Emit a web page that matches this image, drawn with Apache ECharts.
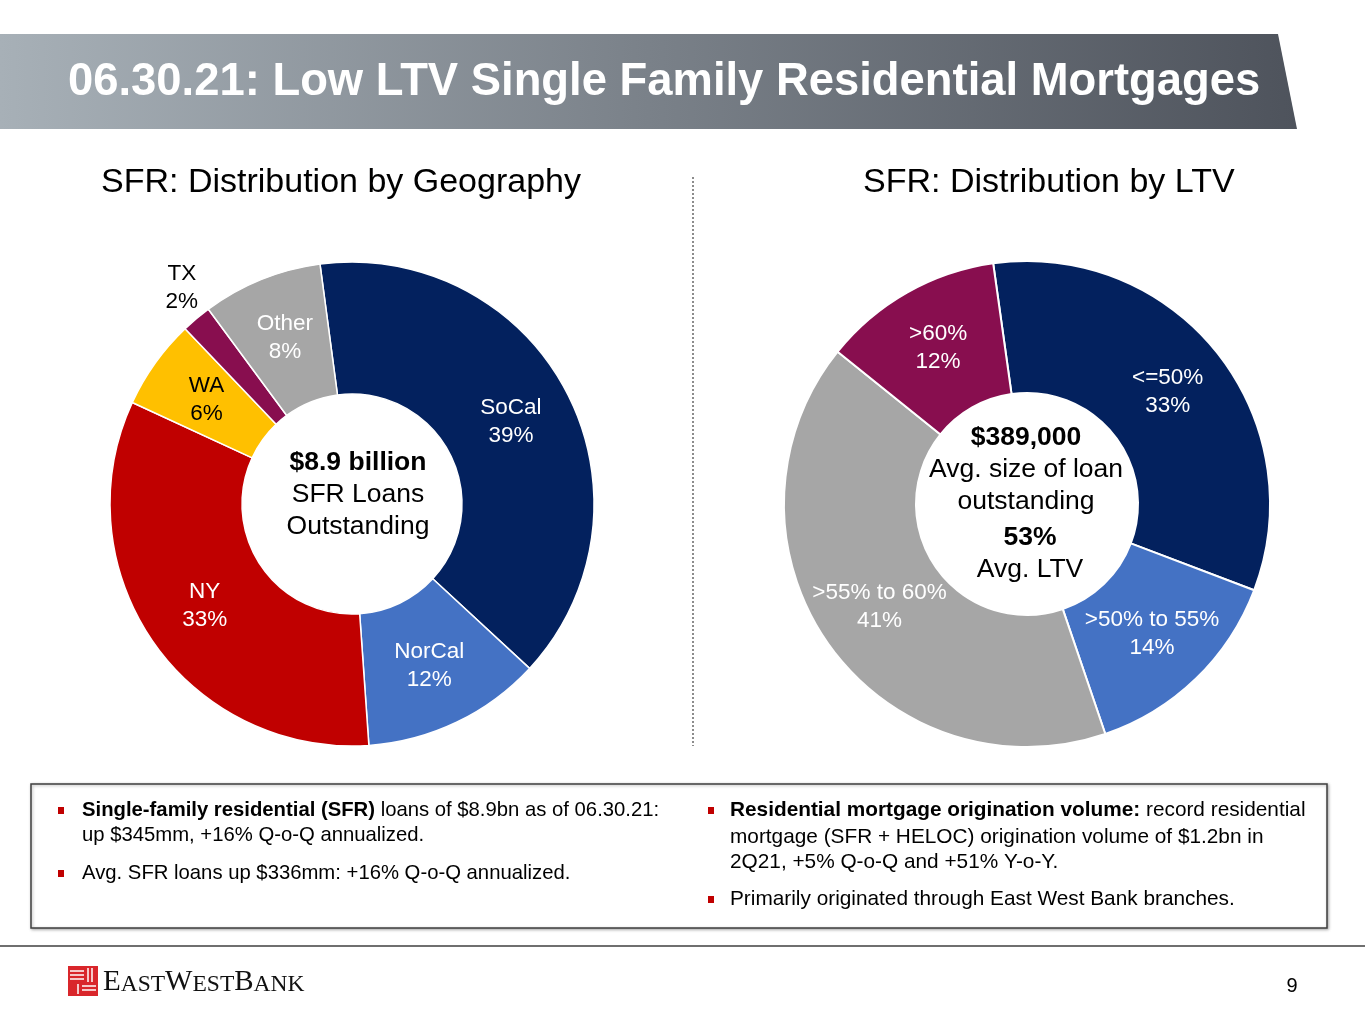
<!DOCTYPE html>
<html>
<head>
<meta charset="utf-8">
<script src="https://cdn.jsdelivr.net/npm/echarts@6/dist/echarts.min.js"></script>
<style>
  html, body { margin: 0; padding: 0; background: #fff; }
  #main { width: 1365px; height: 1024px; }
</style>
</head>
<body>
<div id="main"></div>
<script>
// 数据：按地区分布
var geoNames = ['SoCal', 'NorCal', 'NY', 'WA', 'TX', 'Other'];
var geoValues = [39, 12, 33, 6, 2, 8];
var geoColors = ['#03215E', '#4472C4', '#C00000', '#FFC000', '#880E4F', '#A6A6A6'];

// 数据：按 LTV 分布
var ltvNames = ['<=50%', '>50% to 55%', '>55% to 60%', '>60%'];
var ltvValues = [33, 14, 41, 12];
var ltvColors = ['#03215E', '#4472C4', '#A6A6A6', '#880E4F'];

var FONT = '"Liberation Sans", Arial, sans-serif';

var myChart = echarts.init(document.getElementById('main'));

var geoData = [];
for (var i = 0; i < geoNames.length; i++) {
    var item = { name: geoNames[i], value: geoValues[i], itemStyle: { color: geoColors[i] } };
    if (geoNames[i] == 'WA') {
        item.label = { color: '#000' };
    }
    if (geoNames[i] == 'TX') {
        item.label = { position: 'outside', color: '#000' };
        item.labelLine = { show: false, length: 15, length2: 0 };
    }
    geoData.push(item);
}

var ltvData = [];
for (var j = 0; j < ltvNames.length; j++) {
    ltvData.push({ name: ltvNames[j], value: ltvValues[j], itemStyle: { color: ltvColors[j] } });
}

var pieLabel = {
    show: true,
    position: 'inside',
    formatter: '{b}\n{c}%',
    color: '#fff',
    fontFamily: FONT,
    fontSize: 22.5,
    lineHeight: 28
};

// 子弹列表
function bullet(x, y) {
    return { type: 'rect', shape: { x: x, y: y, width: 6, height: 7 }, style: { fill: '#C00000' } };
}
function line(x, y, txt, size) {
    return {
        type: 'text', x: x, y: y,
        style: {
            text: txt, fontFamily: FONT, fontSize: size, fill: '#000',
            textVerticalAlign: 'middle',
            rich: { b: { fontWeight: 'bold', fontFamily: FONT, fontSize: size } }
        }
    };
}
function centerText(x, y, txt) {
    return {
        type: 'text', x: x, y: y,
        style: {
            text: txt,
            fontFamily: FONT, fontSize: 26.5, lineHeight: 32, fill: '#000',
            textAlign: 'center', textVerticalAlign: 'middle',
            rich: { b: { fontWeight: 'bold', fontFamily: FONT, fontSize: 26.5, lineHeight: 32 } }
        }
    };
}

var option = {
    backgroundColor: '#fff',
    animation: false,
    graphic: [
        // 标题横幅
        {
            type: 'polygon',
            shape: { points: [[0, 34], [1278, 34], [1297, 129], [0, 129]] },
            style: {
                fill: new echarts.graphic.LinearGradient(0, 0, 1, 0, [
                    { offset: 0, color: '#A7B0B7' },
                    { offset: 0.5, color: '#7A8189' },
                    { offset: 1, color: '#4E535C' }
                ])
            }
        },
        {
            type: 'text', x: 68, y: 82,
            style: {
                text: '06.30.21: Low LTV Single Family Residential Mortgages',
                fontFamily: FONT, fontWeight: 'bold', fontSize: 45.4, fill: '#fff',
                textVerticalAlign: 'middle'
            }
        },
        // 副标题
        {
            type: 'text', x: 101, y: 183,
            style: { text: 'SFR: Distribution by Geography', fontFamily: FONT, fontSize: 34, fill: '#000', textVerticalAlign: 'middle' }
        },
        {
            type: 'text', x: 863, y: 183,
            style: { text: 'SFR: Distribution by LTV', fontFamily: FONT, fontSize: 34, fill: '#000', textVerticalAlign: 'middle' }
        },
        // 中间分隔线
        {
            type: 'line', shape: { x1: 693, y1: 177, x2: 693, y2: 746 },
            style: { stroke: '#8C8C8C', lineWidth: 2, lineDash: [2, 2] }
        },
        // 甜甜圈中心文字
        centerText(358, 495, '{b|$8.9 billion}\nSFR Loans\nOutstanding'),
        centerText(1026, 470, '{b|$389,000}\nAvg. size of loan\noutstanding'),
        centerText(1030, 554, '{b|53%}\nAvg. LTV'),
        // 底部说明框
        {
            type: 'rect', shape: { x: 31, y: 784, width: 1296, height: 144 },
            style: { fill: '#fff', stroke: '#3F3F3F', lineWidth: 1.5, shadowBlur: 3, shadowColor: 'rgba(0,0,0,0.3)', shadowOffsetX: 1, shadowOffsetY: 1 }
        },
        bullet(58, 807),
        line(82, 810, '{b|Single-family residential (SFR)} loans of $8.9bn as of 06.30.21:', 20.3),
        line(82, 835, 'up $345mm, +16% Q-o-Q annualized.', 20.3),
        bullet(58, 870),
        line(82, 873, 'Avg. SFR loans up $336mm: +16% Q-o-Q annualized.', 20.3),
        bullet(708, 807),
        line(730, 810, '{b|Residential mortgage origination volume:} record residential', 20.8),
        line(730, 837, 'mortgage (SFR + HELOC) origination volume of $1.2bn in', 20.8),
        line(730, 862, '2Q21, +5% Q-o-Q and +51% Y-o-Y.', 20.8),
        bullet(708, 896),
        line(730, 899, 'Primarily originated through East West Bank branches.', 20.8),
        // 页脚
        {
            type: 'line', shape: { x1: 0, y1: 946, x2: 1365, y2: 946 },
            style: { stroke: '#6F6F6F', lineWidth: 2 }
        },
        { type: 'rect', shape: { x: 68, y: 966, width: 30, height: 30 }, style: { fill: '#D9262B' } },
        { type: 'line', shape: { x1: 70, y1: 971, x2: 84, y2: 971 }, style: { stroke: '#fff', lineWidth: 1.5 } },
        { type: 'line', shape: { x1: 70, y1: 975, x2: 84, y2: 975 }, style: { stroke: '#fff', lineWidth: 1.5 } },
        { type: 'line', shape: { x1: 70, y1: 979, x2: 84, y2: 979 }, style: { stroke: '#fff', lineWidth: 1.5 } },
        { type: 'line', shape: { x1: 88, y1: 968, x2: 88, y2: 982 }, style: { stroke: '#fff', lineWidth: 1.5 } },
        { type: 'line', shape: { x1: 92, y1: 968, x2: 92, y2: 982 }, style: { stroke: '#fff', lineWidth: 1.5 } },
        { type: 'line', shape: { x1: 78, y1: 984, x2: 78, y2: 994 }, style: { stroke: '#fff', lineWidth: 1.5 } },
        { type: 'line', shape: { x1: 82, y1: 986, x2: 96, y2: 986 }, style: { stroke: '#fff', lineWidth: 1.5 } },
        { type: 'line', shape: { x1: 82, y1: 990, x2: 96, y2: 990 }, style: { stroke: '#fff', lineWidth: 1.5 } },
        {
            type: 'text', x: 103, y: 982,
            style: {
                text: '{k|E}{s|AST}{k|W}{s|EST}{k|B}{s|ANK}',
                textVerticalAlign: 'middle', fill: '#111',
                rich: {
                    k: { fontFamily: '"Liberation Serif", serif', fontSize: 29, fill: '#111', verticalAlign: 'bottom' },
                    s: { fontFamily: '"Liberation Serif", serif', fontSize: 23.5, fill: '#111', verticalAlign: 'bottom' }
                }
            }
        },
        {
            type: 'text', x: 1292, y: 986,
            style: { text: '9', fontFamily: FONT, fontSize: 20, fill: '#000', textAlign: 'center', textVerticalAlign: 'middle' }
        }
    ],
    series: [
        {
            name: 'SFR: Distribution by Geography',
            type: 'pie',
            center: [352, 504],
            radius: [110, 242],
            startAngle: 97.6,
            avoidLabelOverlap: false,
            itemStyle: { borderColor: '#fff', borderWidth: 1.5 },
            label: pieLabel,
            labelLine: { show: false },
            labelLayout: function (params) {
                if (params.dataIndex == 4) {
                    return { align: 'center', dy: -19 };
                }
            },
            data: geoData
        },
        {
            name: 'SFR: Distribution by LTV',
            type: 'pie',
            center: [1027, 504],
            radius: [111, 243],
            startAngle: 98,
            avoidLabelOverlap: false,
            itemStyle: { borderColor: '#fff', borderWidth: 2 },
            label: pieLabel,
            labelLine: { show: false },
            data: ltvData
        }
    ]
};

myChart.setOption(option);
</script>
</body>
</html>
